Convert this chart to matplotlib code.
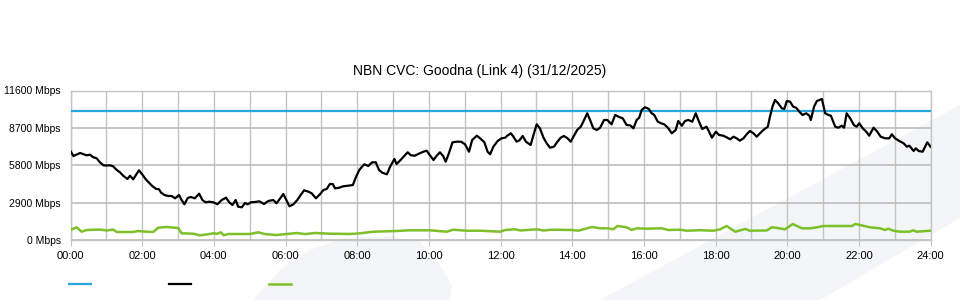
import matplotlib
matplotlib.use("Agg")
import matplotlib.pyplot as plt
from matplotlib.patches import Polygon
from matplotlib.lines import Line2D

plt.rcParams["font.family"] = ["Liberation Sans", "DejaVu Sans"]

title = "NBN CVC: Goodna (Link 4) (31/12/2025)"
capacity_mbps = 10000

# hours since midnight / Mbps
traffic_hours = [
    0.00, 0.08, 0.27, 0.45, 0.54, 0.64, 0.73, 0.82, 0.92, 1.01, 1.10, 1.19, 1.29, 1.38,
    1.47, 1.59, 1.66, 1.75, 1.85, 1.91, 2.00, 2.10, 2.19, 2.28, 2.38, 2.47, 2.53, 2.62,
    2.73, 2.82, 2.92, 3.03, 3.10, 3.18, 3.27, 3.36, 3.47, 3.59, 3.68, 3.77, 3.87, 3.99,
    4.10, 4.22, 4.34, 4.43, 4.52, 4.61, 4.68, 4.78, 4.87, 4.95, 5.03, 5.15, 5.27, 5.40,
    5.52, 5.66, 5.75, 5.94, 6.11, 6.22, 6.33, 6.41, 6.52, 6.64, 6.73, 6.85, 6.96, 7.06,
    7.15, 7.24, 7.32, 7.38, 7.50, 7.61, 7.75, 7.88, 7.97, 8.06, 8.11, 8.20, 8.31, 8.42,
    8.52, 8.61, 8.70, 8.83, 8.92, 9.04, 9.10, 9.22, 9.32, 9.41, 9.50, 9.61, 9.72, 9.85,
    9.94, 10.01, 10.13, 10.22, 10.31, 10.40, 10.47, 10.56, 10.66, 10.78, 10.90, 11.01,
    11.12, 11.21, 11.34, 11.43, 11.55, 11.64, 11.71, 11.80, 11.92, 12.03, 12.13, 12.19,
    12.29, 12.36, 12.45, 12.53, 12.62, 12.71, 12.84, 12.92, 13.01, 13.10, 13.20, 13.29,
    13.38, 13.49, 13.59, 13.68, 13.77, 13.87, 13.96, 14.05, 14.14, 14.24, 14.31, 14.42,
    14.50, 14.59, 14.69, 14.78, 14.89, 14.98, 15.10, 15.20, 15.29, 15.41, 15.52, 15.62,
    15.71, 15.80, 15.87, 15.94, 16.03, 16.13, 16.22, 16.29, 16.39, 16.48, 16.57, 16.67,
    16.78, 16.89, 16.96, 17.06, 17.15, 17.24, 17.35, 17.45, 17.52, 17.63, 17.75, 17.82,
    17.90, 18.01, 18.10, 18.22, 18.31, 18.41, 18.50, 18.59, 18.68, 18.78, 18.87, 18.96,
    19.06, 19.15, 19.24, 19.36, 19.46, 19.52, 19.59, 19.66, 19.75, 19.85, 19.92, 19.99,
    20.08, 20.17, 20.25, 20.34, 20.43, 20.53, 20.62, 20.66, 20.75, 20.83, 20.97, 21.06,
    21.15, 21.22, 21.34, 21.43, 21.52, 21.59, 21.66, 21.77, 21.86, 21.94, 22.01, 22.11,
    22.22, 22.29, 22.41, 22.50, 22.61, 22.73, 22.85, 22.92, 23.01, 23.13, 23.25, 23.34,
    23.41, 23.53, 23.59, 23.67, 23.78, 23.85, 23.91, 24.00,
]
traffic_mbps = [
    6915, 6528, 6760, 6580, 6630, 6427, 6350, 6040, 5808, 5790, 5808, 5730, 5444, 5266,
    5003, 4747, 5003, 4724, 5158, 5421, 5111, 4724, 4460, 4205, 3996, 3949, 3686, 3508,
    3430, 3430, 3252, 3508, 3121, 2788, 3276, 3353, 3252, 3609, 3121, 2943, 2989, 2943,
    2788, 3121, 3299, 2943, 2734, 3121, 2602, 2556, 2889, 2788, 2943, 2966, 3020, 2811,
    3043, 3121, 2865, 3585, 2633, 2788, 3121, 3454, 3872, 3764, 3640, 3252, 3562, 3895,
    3973, 4360, 4360, 4027, 4073, 4182, 4228, 4282, 4925, 5444, 5622, 5885, 5754, 6040,
    6040, 5444, 5235, 5111, 5700, 6296, 5909, 6242, 6551, 6815, 6582, 6551, 6706, 6861,
    6938, 6660, 6218, 6551, 6815, 6528, 6087, 6737, 7589, 7636, 7636, 7434,
    6861, 7767, 8100, 7899, 7589, 6861, 6660, 7248, 7690, 7899, 7946, 8100,
    8286, 8023, 7636, 7744, 8077, 7636, 7380, 8154, 8983, 8673, 7946, 7512,
    7171, 7248, 7636, 7946, 8077, 7899, 7636, 8100, 8542, 8797, 9184, 9835,
    9316, 8673, 8542, 8720, 9316, 9316, 8983, 9703, 9572, 9448, 8929, 8900,
    8673, 9316, 9494, 10090, 10300, 10190, 9835, 9703, 9184, 9060, 8983, 8720,
    8286, 8542, 9239, 8874, 9239, 9316, 9184, 9835, 9316, 8619, 8797, 8410,
    7946, 8410, 8154, 8100, 7976, 7821, 8023, 7899, 7713, 7899, 8209, 8464,
    8286, 8023, 8286, 8596, 8797, 9572, 10346, 10865, 10609, 10222, 10167, 10787,
    10733, 10346, 10269, 9959, 9703, 9835, 9649, 9316, 10346, 10787, 10942, 9835,
    9703, 9649, 8797, 8720, 8874, 8720, 9835, 9393, 8929, 8797, 9060, 8673,
    8364, 8100, 8720, 8464, 8023, 7899, 7899, 8209, 7899, 7690, 7512, 7248,
    7326, 6915, 7124, 6915, 6861, 7248, 7589, 7248,
]

other_hours = [
    0.00, 0.17, 0.31, 0.45, 0.82, 1.01, 1.19, 1.29, 1.75, 1.89, 2.03, 2.31, 2.45, 2.68,
    3.01, 3.10, 3.43, 3.61, 3.80, 3.99, 4.09, 4.19, 4.28, 4.40, 5.01, 5.24, 5.43, 5.75,
    6.01, 6.31, 6.55, 6.82, 7.24, 7.80, 8.08, 8.45, 9.10, 9.47, 10.03, 10.50, 10.68,
    11.06, 11.43, 11.99, 12.13, 12.41, 12.55, 13.01, 13.20, 13.43, 13.99, 14.17, 14.55,
    14.78, 15.01, 15.15, 15.26, 15.52, 15.66, 15.80, 16.08, 16.50, 16.68, 17.01, 17.20,
    17.57, 17.94, 18.13, 18.31, 18.55, 18.83, 18.96, 19.43, 19.57, 19.71, 19.94, 20.16,
    20.27, 20.41, 20.64, 20.83, 21.01, 21.48, 21.81, 21.90, 22.04, 22.31, 22.59, 22.73,
    22.82, 22.96, 23.15, 23.42, 23.52, 23.61, 24.00,
]
other_mbps = [
    798, 1007, 666, 798, 830, 760, 830, 643, 643, 720, 680, 643, 976, 1030,
    950, 542, 511, 387, 450, 542, 500, 620, 387, 488, 488, 620, 480, 410,
    480, 565, 480, 565, 511, 488, 540, 666, 720, 774, 774, 666, 821,
    740, 743, 666, 798, 851, 760, 851, 760, 820, 798, 743, 1030,
    929, 929, 851, 1107, 1007, 798, 929, 900, 929, 798, 820, 743,
    780, 743, 851, 1107, 666, 875, 743, 760, 1007, 960, 851, 1262,
    1107, 929, 929, 1007, 1107, 1107, 1107, 1262, 1180, 1007, 929, 798,
    900, 743, 666, 666, 774, 666, 743,
]

y_ticks = [0, 2900, 5800, 8700, 11600]
y_labels = ["0 Mbps", "2900 Mbps", "5800 Mbps", "8700 Mbps", "11600 Mbps"]
x_ticks = list(range(0, 25, 2))
x_labels = ["%02d:00" % h for h in x_ticks]

blue = "#27a6df"
green = "#7dc02a"
grid = "#c4c4c4"
shade = "#f4f5f7"

fig = plt.figure(figsize=(9.6, 3.0), dpi=100)

# faint background watermark shapes, kept behind the axes
band = Polygon([(600 / 960, 0), (1, 1 - 105 / 300), (1, 1 - 218 / 300), (820 / 960, 0)],
               closed=True, transform=fig.transFigure, facecolor=shade,
               edgecolor="none", zorder=-5)
hill = Polygon([(253 / 960, 0), (280 / 960, 1 - 270 / 300), (310 / 960, 1 - 250 / 300),
                (345 / 960, 1 - 238 / 300), (390 / 960, 1 - 236 / 300),
                (420 / 960, 1 - 242 / 300), (440 / 960, 1 - 265 / 300),
                (452 / 960, 1 - 285 / 300), (450 / 960, 0)],
               closed=True, transform=fig.transFigure, facecolor=shade,
               edgecolor="none", zorder=-5)
fig.patches.extend([band, hill])

ax = fig.add_axes([70.5 / 960, 59.7 / 300, 860 / 960, 149.8 / 300])
ax.set_zorder(1)
ax.patch.set_alpha(0)

ax.axhline(capacity_mbps, color=blue, lw=1.6, zorder=3)
ax.plot(traffic_hours, traffic_mbps, color="black", lw=1.6, zorder=4)
ax.plot(other_hours, other_mbps, color=green, lw=1.8, zorder=3)

ax.set_xlim(0, 24)
ax.set_ylim(0, 11600)
ax.set_xticks(x_ticks)
ax.set_xticklabels(x_labels)
ax.set_xticks(range(0, 25), minor=True)
ax.set_yticks(y_ticks)
ax.set_yticklabels(y_labels)
ax.grid(True, which="both", axis="x", color=grid, lw=1)
ax.grid(True, which="major", axis="y", color="#bcbcbc", lw=1.2)
ax.tick_params(axis="x", which="major", length=4, color=grid, labelsize=8, pad=4)
ax.tick_params(axis="x", which="minor", length=0)
ax.tick_params(axis="y", length=0, labelsize=7.5, pad=7)
for s in ax.spines.values():
    s.set_color(grid)
    s.set_linewidth(1)

fig.text(480 / 960, 1 - 71 / 300, title, ha="center", va="center", fontsize=10)

handles = [Line2D([], [], color=blue, lw=1.6),
           Line2D([], [], color="black", lw=1.6),
           Line2D([], [], color=green, lw=1.8)]
fig.legend(handles, ["", "", ""], loc="center left", bbox_to_anchor=(69 / 960, 1 - 285 / 300),
           ncol=3, frameon=False, handlelength=2.0, handletextpad=0, columnspacing=7.0,
           borderpad=0, borderaxespad=0, fontsize=8)

fig.savefig("out.png", dpi=100)
